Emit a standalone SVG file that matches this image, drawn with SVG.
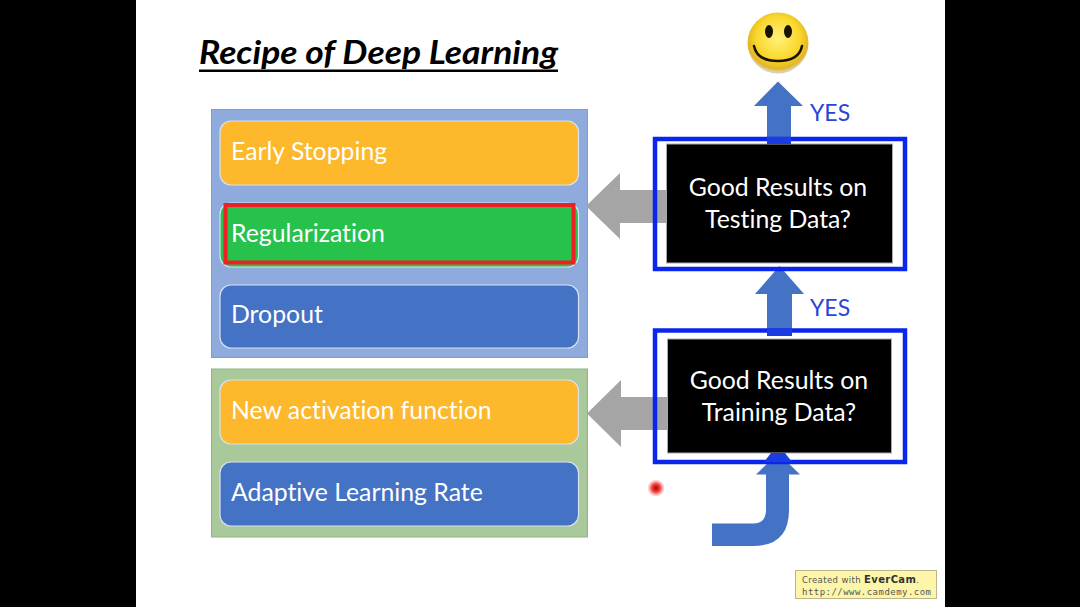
<svg xmlns="http://www.w3.org/2000/svg" width="1080" height="607" viewBox="0 0 1080 607">
<style>
text{font-variant-ligatures:none}
.item{stroke:#d8e2f0;stroke-width:1.2}
.lbl{font-family:Lato,"Open Sans",sans-serif;font-size:24.8px;fill:#fff}
.q{font-family:Lato,"Open Sans",sans-serif;font-size:24.8px;fill:#fff;text-anchor:middle}
.yes{font-family:Lato,"Open Sans",sans-serif;font-size:23px;fill:#2a44d8}
.frame{fill:none;stroke:#0a26ee;stroke-width:4.5}
.up{fill:#4472c4}
.left{fill:#a5a5a5}
</style>
<defs>
<radialGradient id="face" cx="50%" cy="42%" r="55%"><stop offset="0" stop-color="#fff27a"/><stop offset=".65" stop-color="#f9d72c"/><stop offset=".92" stop-color="#e3b622"/><stop offset="1" stop-color="#d8d0b0"/></radialGradient>
<radialGradient id="dot"><stop offset="0" stop-color="#e81818"/><stop offset=".45" stop-color="#f53838"/><stop offset="1" stop-color="#ff8080" stop-opacity="0"/></radialGradient>
</defs>
<rect width="1080" height="607" fill="#000"/>
<rect x="136" y="0" width="809" height="607" fill="#fff"/>
<g id="title"><text x="199" y="64" font-family="Lato,'Open Sans',sans-serif" font-size="32" font-weight="700" font-style="italic" fill="#000" textLength="359" lengthAdjust="spacingAndGlyphs">Recipe of Deep Learning</text><rect x="199" y="69.500" width="359" height="2.500" fill="#000"/></g>
<g id="panel-top"><rect x="211.500" y="109.500" width="376" height="248" fill="#8faadc" stroke="#7f9bd0"/></g>
<g id="panel-bottom"><rect x="211.500" y="369" width="376" height="168" fill="#a9c99a" stroke="#8fb580"/></g>
<g id="early-stopping"><rect class="item" x="220" y="121" width="358.500" height="64" rx="11" fill="#fdb82b"/><text class="lbl" x="231" y="160">Early Stopping</text></g>
<g id="regularization"><rect class="item" x="220" y="203" width="358.500" height="64" rx="11" fill="#27c24c"/><rect x="225.500" y="205" width="348" height="57.500" fill="none" stroke="#ee2024" stroke-width="4"/><text class="lbl" x="231" y="242">Regularization</text></g>
<g id="dropout"><rect class="item" x="220" y="285" width="358.500" height="63" rx="11" fill="#4472c4"/><text class="lbl" x="231" y="323">Dropout</text></g>
<g id="new-activation"><rect class="item" x="220" y="380" width="358.500" height="64" rx="11" fill="#fdb82b"/><text class="lbl" x="231" y="419">New activation function</text></g>
<g id="adaptive"><rect class="item" x="220" y="462" width="358.500" height="64" rx="11" fill="#4472c4"/><text class="lbl" x="231" y="501">Adaptive Learning Rate</text></g>
<g id="connectors">
<path class="left" d="M667 190H620V173L586 206L620 239V223H667Z"/>
<path class="left" d="M668 397H621V380L587 413.500L621 447V430H668Z"/>
<path class="up" d="M767 144V106H754L778 81.500L803 106H791V144Z"/>
<path class="up" d="M767 336V294H755L779.500 266L804 294H792V336Z"/>
<path class="up" d="M712 546V523.500H753Q766 523.500 766 510V474.500H756L778 453L800 474.500H789V510Q789 546 753 546Z"/>
</g>
<g id="testing"><rect x="666.500" y="144" width="226" height="119" fill="#000" stroke="#a9a9a9"/><rect class="frame" x="655" y="139" width="250" height="130"/><rect x="767" y="137" width="24" height="7" fill="#1a3ce0"/><text class="q" x="778" y="196">Good Results on</text><text class="q" x="778" y="228">Testing Data?</text></g>
<g id="training"><rect x="667.500" y="339" width="224" height="114" fill="#000" stroke="#a9a9a9"/><rect class="frame" x="655" y="330.500" width="250" height="131.500"/><rect x="767" y="328" width="25" height="8" fill="#1a3ce0"/><text class="q" x="779" y="389">Good Results on</text><text class="q" x="779" y="421">Training Data?</text></g>
<path d="M771 453H785L792 462H764Z" fill="#1a3ce0"/>
<g id="yes-top"><text class="yes" x="810" y="121">YES</text></g>
<g id="yes-bottom"><text class="yes" x="810" y="316">YES</text></g>
<g id="smiley"><circle cx="778" cy="43" r="30.500" fill="url(#face)"/><ellipse cx="769" cy="31.500" rx="4" ry="6.500" fill="#1a1200"/><ellipse cx="788" cy="31.500" rx="4" ry="6.500" fill="#1a1200"/><path d="M754 46Q757 61 778 61Q799 61 802 46" fill="none" stroke="#1a1200" stroke-width="2.500" stroke-linecap="round"/></g>
<g id="pointer"><circle cx="656" cy="488" r="9" fill="url(#dot)"/><circle cx="656" cy="488" r="2" fill="#a01818"/></g>
<g id="watermark"><rect x="795.500" y="570.500" width="141" height="28" fill="#fdf6a8" stroke="#b9b68c"/><text x="802" y="583" font-family="'DejaVu Sans',sans-serif" font-size="8.500" fill="#555" textLength="117">Created with <tspan font-weight="700" fill="#333" font-size="10">EverCam</tspan>.</text><text x="802" y="594.500" font-family="'DejaVu Sans Mono',monospace" font-size="9" fill="#555" textLength="129">http://www.camdemy.com</text></g>
</svg>
